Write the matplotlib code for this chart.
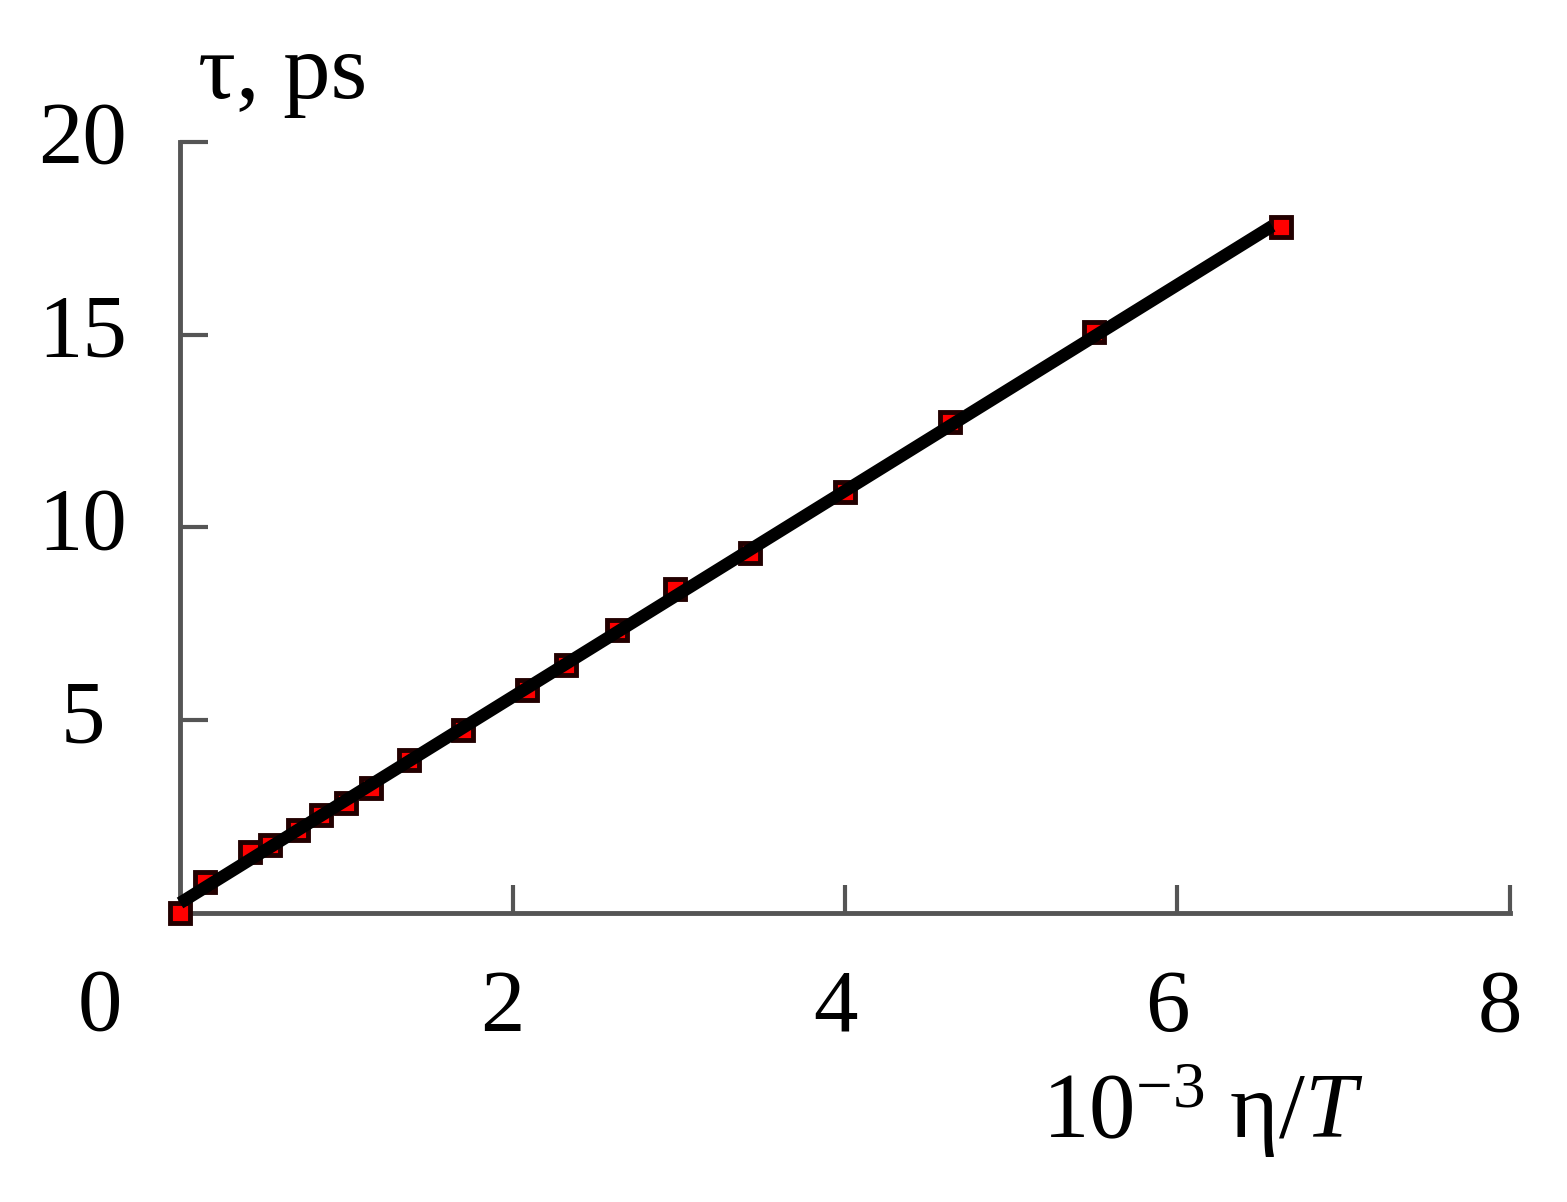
import numpy as np
import matplotlib
matplotlib.use("Agg")
import matplotlib.pyplot as plt
import matplotlib.transforms as mtransforms

# Data (x = 10^-3 eta/T, y = tau in ps)
eta_over_t = [0.0, 0.15, 0.42, 0.54, 0.71, 0.85, 1.00, 1.15, 1.38, 1.70,
              2.09, 2.32, 2.63, 2.98, 3.43, 4.00, 4.63, 5.50, 6.62]
tau_ps = [0.0, 0.80, 1.58, 1.76, 2.15, 2.54, 2.85, 3.24, 3.97, 4.75,
          5.78, 6.43, 7.34, 8.40, 9.34, 10.92, 12.74, 15.07, 17.80]

x_ticks = [2, 4, 6, 8]
y_ticks = [5, 10, 15, 20]

plt.rcParams["font.family"] = ["Liberation Serif", "DejaVu Serif"]
plt.rcParams["mathtext.fontset"] = "custom"
plt.rcParams["mathtext.rm"] = "Liberation Serif"
plt.rcParams["mathtext.it"] = "Liberation Serif:italic"

fig = plt.figure(figsize=(15.67, 12.02), dpi=100)
ax = fig.add_axes([0.1149, 0.2404, 0.8487, 0.6415])

# markers under the fitted line
ax.plot(eta_over_t, tau_ps, linestyle="none", marker="s", markersize=14,
        markerfacecolor="#ff0000", markeredgecolor="#220000",
        markeredgewidth=3.5, zorder=3, clip_on=False)

# linear fit
k, b = np.polyfit(eta_over_t, tau_ps, 1)
xs = np.array([0, max(eta_over_t) - 0.05])
ax.plot(xs, k * xs + b, color="black", linewidth=9, zorder=4,
        solid_capstyle="butt", clip_on=False)

ax.set_xlim(0, 8)
ax.set_ylim(0, 20)
ax.set_xticks(x_ticks)
ax.set_yticks(y_ticks)

for side in ["top", "right"]:
    ax.spines[side].set_visible(False)
for side in ["left", "bottom"]:
    ax.spines[side].set_linewidth(3.5)
    ax.spines[side].set_color("#555555")

ax.tick_params(axis="both", direction="in", length=20, width=3,
               color="#555555", labelsize=64)
ax.tick_params(axis="x", pad=40)
ax.tick_params(axis="y", pad=70)

# y tick labels centred and nudged up a bit
yoff = mtransforms.ScaledTranslation(0, 10 / 100, fig.dpi_scale_trans)
for lab in ax.get_yticklabels():
    lab.set_horizontalalignment("center")
    lab.set_transform(lab.get_transform() + yoff)

# x tick labels sit a little left of their ticks
xoff = mtransforms.ScaledTranslation(-10 / 100, 0, fig.dpi_scale_trans)
for lab in ax.get_xticklabels():
    lab.set_transform(lab.get_transform() + xoff)

# origin label
fig.text(100 / 1567, 1 - 1008 / 1202, "0", fontsize=64,
         ha="center", va="center")

# axis titles
fig.text(198 / 1567, 1 - 98 / 1202, "τ, ps", fontsize=68,
         ha="left", va="baseline")
fig.text(1042 / 1567, 1 - 1138 / 1202, r"$\mathrm{10^{-3}\ \eta}/T$",
         fontsize=67, ha="left", va="baseline")

fig.savefig("out.png", dpi=100, facecolor="white")
